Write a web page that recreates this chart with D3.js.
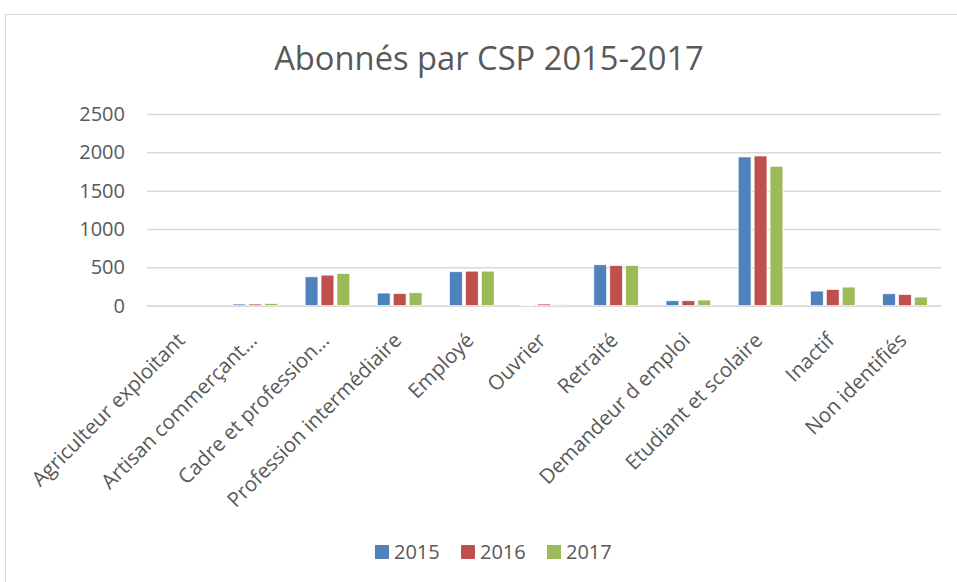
<!DOCTYPE html>
<html>
<head>
<meta charset="utf-8">
<script src="https://cdn.jsdelivr.net/npm/d3@7"></script>
<style>
	body { margin: 0; background: #fff; }
	svg { display: block; font-family: 'Open Sans', sans-serif; }
</style>
</head>
<body>
<div id="chart"></div>
<script>
/***********************************************************************/
//Data
/***********************************************************************/
const categories = [
	'Agriculteur exploitant',
	'Artisan commerçant…',
	'Cadre et profession…',
	'Profession intermédiaire',
	'Employé',
	'Ouvrier',
	'Retraité',
	'Demandeur d emploi',
	'Etudiant et scolaire',
	'Inactif',
	'Non identifiés'
]
const years = ['2015', '2016', '2017']
const values2015 = [0, 22, 377, 165, 443, 9, 534, 65, 1940, 191, 156]
const values2016 = [0, 22, 399, 160, 451, 22, 525, 65, 1953, 213, 148]
const values2017 = [0, 30, 421, 169, 451, 17, 525, 74, 1819, 243, 113]
const yTicks = [0, 500, 1000, 1500, 2000, 2500]

const series = [values2015, values2016, values2017]
const colors = ['#4F81BD', '#C0504D', '#9BBB59']

/***********************************************************************/
//Plot Area
/***********************************************************************/
const width = 957
const height = 582
const plot = { left: 147, right: 941, top: 114, bottom: 305.7 }
const textColor = '#595959'

const svg = d3.select('#chart')
	.append('svg')
	.attr('width', width)
	.attr('height', height)

svg.append('rect')
	.attr('x', 5.5)
	.attr('y', 14.5)
	.attr('width', width)
	.attr('height', height)
	.attr('fill', 'none')
	.attr('stroke', '#d9d9d9')

svg.append('text')
	.attr('x', 489)
	.attr('y', 70)
	.attr('text-anchor', 'middle')
	.attr('font-size', '32.7px')
	.attr('fill', textColor)
	.text('Abonnés par CSP 2015-2017')

/***********************************************************************/
//Scale
/***********************************************************************/
const x0 = d3.scaleBand()
	.domain(categories)
	.range([plot.left, plot.right])
	.paddingInner(0.38)
	.paddingOuter(0.19)

const x1 = d3.scaleBand()
	.domain(years)
	.range([0, x0.bandwidth()])
	.paddingInner(0.19)

const yScale = d3.scaleLinear()
	.domain([0, 2500])
	.range([plot.bottom, plot.top])

/***********************************************************************/
//Axes
/***********************************************************************/
const yAxis = d3.axisLeft(yScale)
	.tickValues(yTicks)
	.tickFormat(d3.format('d'))
	.tickSize(-(plot.right - plot.left))
	.tickPadding(22)

const yAxisG = svg.append('g')
	.attr('transform', 'translate(' + plot.left + ',0)')
	.call(yAxis)

yAxisG.select('.domain').remove()
yAxisG.selectAll('.tick line')
	.attr('stroke', '#d9d9d9')
	.attr('stroke-width', 1.5)
yAxisG.selectAll('.tick text')
	.attr('fill', textColor)
	.attr('font-size', '20px')
	.attr('font-family', "'Open Sans', sans-serif")

const xAxis = d3.axisBottom(x0)
	.tickSize(0)
	.tickPadding(0)

const xAxisG = svg.append('g')
	.attr('transform', 'translate(0,' + plot.bottom + ')')
	.call(xAxis)

xAxisG.select('.domain')
	.attr('stroke', '#d9d9d9')
	.attr('stroke-width', 1.5)

xAxisG.selectAll('.tick text')
	.attr('fill', textColor)
	.attr('font-size', '20.5px')
	.attr('font-family', "'Open Sans', sans-serif")
	.attr('text-anchor', 'end')
	.attr('dy', 0)
	.attr('transform', 'translate(3,36) rotate(-45)')

/***********************************************************************/
//Bars
/***********************************************************************/
years.forEach((year, s) => {
	svg.append('g')
		.selectAll('rect')
		.data(series[s])
		.join('rect')
		.attr('x', (d, i) => x0(categories[i]) + x1(year))
		.attr('y', d => yScale(d))
		.attr('width', x1.bandwidth())
		.attr('height', d => plot.bottom - yScale(d))
		.attr('fill', colors[s])
		.attr('stroke', '#fff')
		.attr('stroke-width', 0.75)
})

/***********************************************************************/
//Legend
/***********************************************************************/
const legendX = [375, 461, 547]
const legend = svg.append('g')

years.forEach((year, s) => {
	legend.append('rect')
		.attr('x', legendX[s])
		.attr('y', 545)
		.attr('width', 14)
		.attr('height', 14)
		.attr('fill', colors[s])
	legend.append('text')
		.attr('x', legendX[s] + 19)
		.attr('y', 559)
		.attr('font-size', '20px')
		.attr('fill', textColor)
		.text(year)
})
</script>
</body>
</html>
